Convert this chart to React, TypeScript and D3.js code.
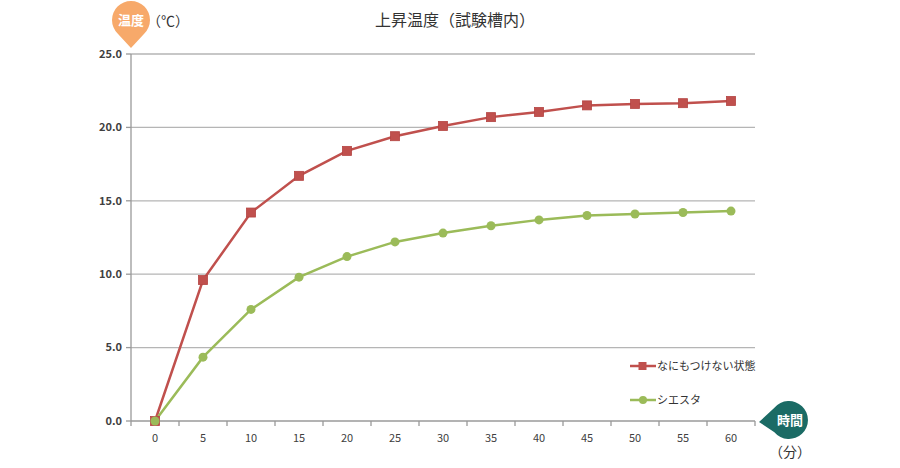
import React from "react";
import * as d3 from "d3";

const minutes = ["0", "5", "10", "15", "20", "25", "30", "35", "40", "45", "50", "55", "60"];
const noneValues = [0, 9.6, 14.2, 16.7, 18.4, 19.4, 20.1, 20.7, 21.05, 21.5, 21.6, 21.65, 21.8];
const siestaValues = [0, 4.35, 7.6, 9.8, 11.2, 12.2, 12.8, 13.3, 13.7, 14.0, 14.1, 14.2, 14.3];
const yTicks = [0, 5, 10, 15, 20, 25];
const seriesNames = ["なにもつけない状態", "シエスタ"];

const W = 900, H = 468;
const left = 131, right = 755, top = 54, bottom = 421;
const RED = "#c0504d", GREEN = "#9bbb59";
const FONT = "'Noto Sans CJK JP', 'Noto Sans', sans-serif";

export default function App() {
  const x = d3.scaleBand<string>().domain(minutes).range([left, right]);
  const y = d3.scaleLinear().domain([0, 25]).range([bottom, top]);
  const cx = (m: string) => (x(m) as number) + x.bandwidth() / 2;
  const line = d3.line<number>().x((_, i) => cx(minutes[i])).y(d => y(d));
  const xBounds = minutes.map(m => x(m) as number).concat([right]);

  return (
    <svg width={W} height={H} style={{ position: "absolute", left: 0, top: 0, background: "#fff" }} fontFamily={FONT}>
      {/* gridlines */}
      {yTicks.filter(t => t > 0).map(t => (
        <line key={t} x1={left} x2={right} y1={y(t)} y2={y(t)} stroke="#b5b5b5" strokeWidth={1.3} />
      ))}
      {/* axes */}
      <line x1={left} x2={left} y1={top} y2={bottom} stroke="#9a9a9a" strokeWidth={1.3} />
      <line x1={left} x2={right} y1={bottom} y2={bottom} stroke="#9a9a9a" strokeWidth={1.3} />
      {yTicks.map(t => (
        <g key={t}>
          <line x1={left - 5} x2={left} y1={y(t)} y2={y(t)} stroke="#9a9a9a" strokeWidth={1.3} />
          <text x={left - 9} y={y(t)} dy="0.35em" textAnchor="end" fontSize={11} fontWeight="bold" fill="#404040">
            {t.toFixed(1)}
          </text>
        </g>
      ))}
      {xBounds.map((b, i) => (
        <line key={i} x1={b} x2={b} y1={bottom} y2={bottom + 5} stroke="#9a9a9a" strokeWidth={1.3} />
      ))}
      {minutes.map(m => (
        <text key={m} x={cx(m)} y={bottom + 17} dy="0.35em" textAnchor="middle" fontSize={11} fill="#404040">
          {m}
        </text>
      ))}

      {/* series */}
      <path d={line(noneValues) || ""} fill="none" stroke={RED} strokeWidth={2.5} />
      <path d={line(siestaValues) || ""} fill="none" stroke={GREEN} strokeWidth={2.5} />
      {noneValues.map((v, i) => (
        <rect key={i} x={cx(minutes[i]) - 4.5} y={y(v) - 4.5} width={9} height={9} fill={RED} stroke="#b44442" strokeWidth={0.8} />
      ))}
      {siestaValues.map((v, i) => (
        <circle key={i} cx={cx(minutes[i])} cy={y(v)} r={4.5} fill={GREEN} />
      ))}

      {/* title */}
      <text x={455} y={20} dy="0.35em" textAnchor="middle" fontSize={16} fill="#333">上昇温度（試験槽内）</text>

      {/* y badge */}
      <path d="M 117.6 33.4 A 19 19 0 1 1 144.4 33.4 L 131 48 Z" fill="#f7a96a" />
      <text x={131} y={20} dy="0.35em" textAnchor="middle" fontSize={13} fontWeight="bold" fill="#fff">温度</text>
      <text x={168} y={21} dy="0.35em" textAnchor="middle" fontSize={14} fill="#333">（℃）</text>

      {/* x badge */}
      <path d="M 774.4 407.8 A 19 19 0 1 1 774.4 432.2 L 759 422 Z" fill="#1b6b65" />
      <text x={790} y={420} dy="0.35em" textAnchor="middle" fontSize={13} fontWeight="bold" fill="#fff">時間</text>
      <text x={790} y={452} dy="0.35em" textAnchor="middle" fontSize={14} fill="#333">（分）</text>

      {/* legend */}
      {seriesNames.map((name, i) => {
        const ly = 366 + i * 34;
        const col = i === 0 ? RED : GREEN;
        return (
          <g key={name}>
            <line x1={630} x2={656} y1={ly} y2={ly} stroke={col} strokeWidth={2.5} />
            {i === 0 ? (
              <rect x={638.5} y={ly - 4} width={8} height={8} fill={col} />
            ) : (
              <circle cx={643} cy={ly} r={4} fill={col} />
            )}
            <text x={657} y={ly} dy="0.35em" fontSize={11} fill="#333">{name}</text>
          </g>
        );
      })}
    </svg>
  );
}
